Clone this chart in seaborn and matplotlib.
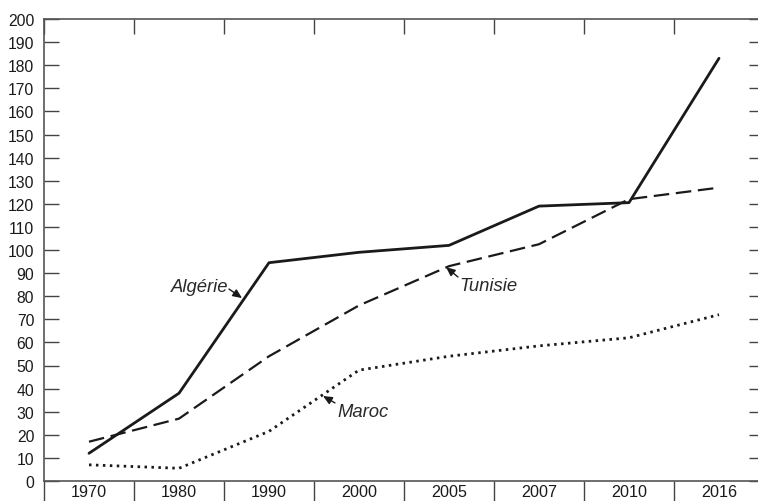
import matplotlib
matplotlib.use("Agg")
import matplotlib.pyplot as plt
import seaborn as sns
import numpy as np
import pandas as pd

years = ["1970", "1980", "1990", "2000", "2005", "2007", "2010", "2016"]
algerie = [12, 38, 94.5, 99, 102, 119, 120.5, 183]
tunisie = [17, 27, 54, 76, 93, 102.5, 122, 127]
maroc = [7, 5.5, 21.5, 48, 54, 58.5, 62, 72]
y_ticks = list(range(0, 201, 10))

sns.set_theme(style="white")
plt.rcParams['font.family'] = ['Liberation Sans', 'DejaVu Sans']

fig = plt.figure(figsize=(7.58, 5.02), dpi=100)
W, H = 758, 502
ax = fig.add_axes([44 / W, (H - 482) / H, 720 / W, 462 / H])

pos = np.arange(len(years))
df = pd.DataFrame({"pos": np.tile(pos, 3),
                   "val": algerie + tunisie + maroc,
                   "pays": ["Algérie"] * 8 + ["Tunisie"] * 8 + ["Maroc"] * 8})

col = "#1a1a1a"
sns.lineplot(data=df[df.pays == "Algérie"], x="pos", y="val", ax=ax, color=col, lw=2.0)
sns.lineplot(data=df[df.pays == "Tunisie"], x="pos", y="val", ax=ax, color=col, lw=1.6)
sns.lineplot(data=df[df.pays == "Maroc"], x="pos", y="val", ax=ax, color=col, lw=2.0)
lines = ax.get_lines()
lines[1].set_dashes([7, 3])
lines[2].set_dashes([0.9, 1.6])

ax.set_xlim(-0.5, len(years) - 0.5)
ax.set_ylim(0, 200)
ax.set_xlabel("")
ax.set_ylabel("")

# category boundaries as major ticks, labels at centers via minor ticks
ax.set_xticks(np.arange(len(years) + 1) - 0.5)
ax.set_xticklabels([])
ax.set_xticks(pos, minor=True)
ax.set_xticklabels(years, minor=True)
ax.tick_params(axis="x", which="major", direction="out", length=15, width=1,
               color="#444444", bottom=True, top=False)
ax.tick_params(axis="x", which="minor", length=0, labelsize=11.6, pad=2,
               colors="#1a1a1a", bottom=True, top=False)

ax.set_yticks(y_ticks)
ax.tick_params(axis="y", which="major", direction="in", length=11, width=1,
               color="#444444", left=True, right=True, labelsize=11.3, pad=7,
               labelcolor="#1a1a1a")

for s in ax.spines.values():
    s.set_color("#555555")
    s.set_linewidth(1.2)

# top ticks point inward: draw via secondary axis
sec = ax.secondary_xaxis("top")
sec.set_xticks(np.arange(len(years) + 1) - 0.5)
sec.set_xticklabels([])
sec.tick_params(direction="in", length=11, width=1, color="#444444")
sec.spines["top"].set_visible(False)

arrow = dict(arrowstyle="-|>,head_length=0.45,head_width=0.2", color=col, lw=1.0,
             shrinkA=0, shrinkB=0)
fs = 13.3
tc = "#2a2a2a"
# Algérie
ax.annotate("", xy=(1.7, 79.2), xytext=(1.556, 83.1), arrowprops=arrow)
ax.text(1.544, 84, "Algérie", ha="right", va="center", style="italic", fontsize=fs, color=tc)
# Tunisie
ax.annotate("", xy=(3.967, 92.6), xytext=(4.1, 88.3), arrowprops=arrow)
ax.text(4.111, 84.8, "Tunisie", ha="left", va="center", style="italic", fontsize=fs, color=tc)
# Maroc
ax.annotate("", xy=(2.6, 36.8), xytext=(2.733, 33.8), arrowprops=arrow)
ax.text(2.756, 30.3, "Maroc", ha="left", va="center", style="italic", fontsize=fs, color=tc)

fig.savefig("out.png", dpi=100)
